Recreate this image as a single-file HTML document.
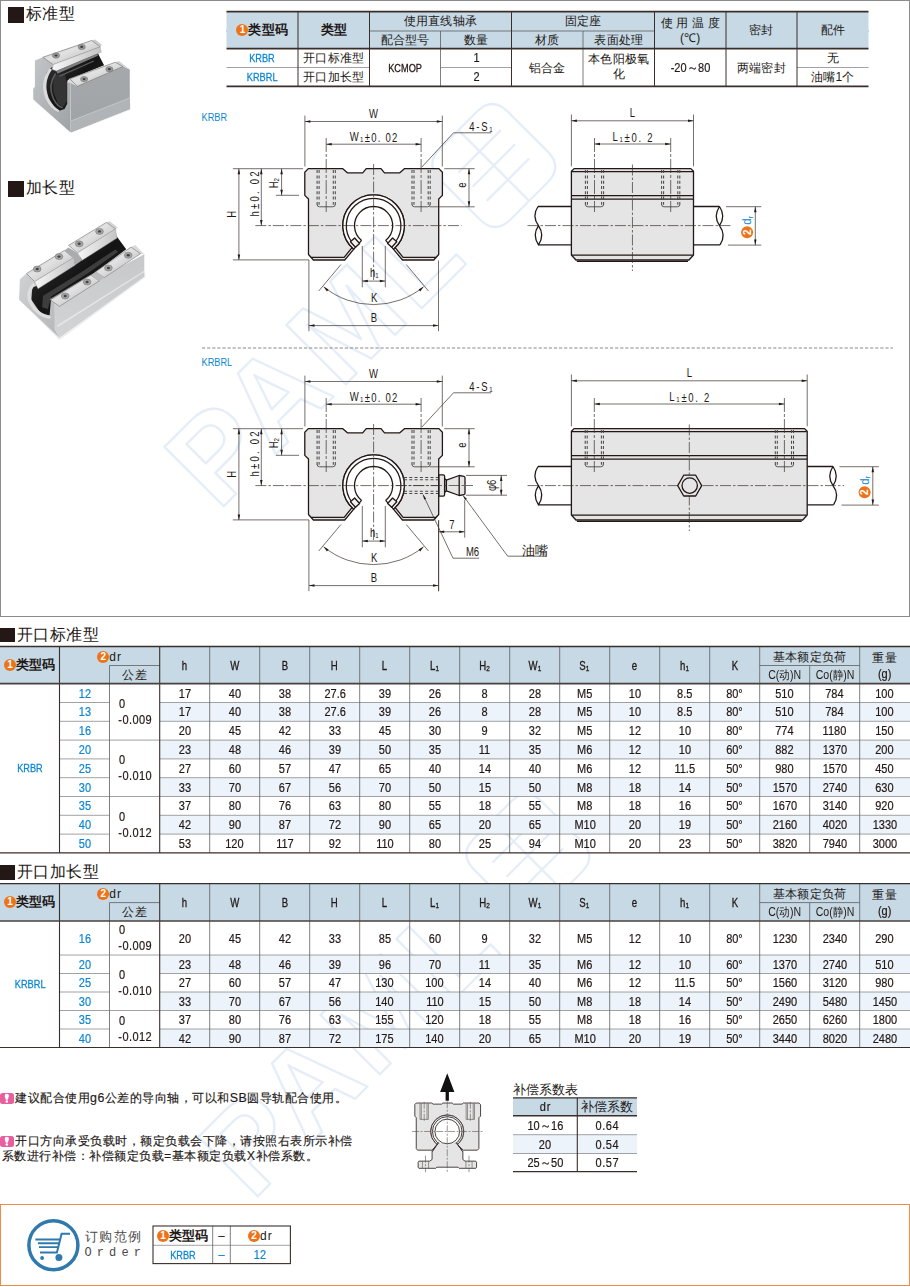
<!DOCTYPE html>
<html lang="zh">
<head>
<meta charset="utf-8">
<title>KRBR / KRBRL</title>
<style>
html,body{margin:0;padding:0;background:#fff;}
body{width:910px;height:1287px;position:relative;overflow:hidden;font-family:"Liberation Sans",sans-serif;color:#231815;font-size:12px;}
.abs{position:absolute;}
.bx{position:absolute;box-sizing:border-box;}
.ln{position:absolute;background:#231815;}
.lg{position:absolute;background:#7d7d7d;}
.t{position:absolute;text-align:center;white-space:nowrap;overflow:visible;font-size:12px;line-height:14px;height:14px;letter-spacing:.2px;}
.t span.s{display:inline-block;transform-origin:50% 50%;}
.n{font-size:12.5px;letter-spacing:0;-webkit-text-stroke:.2px #231815;}
.n span.s{transform:scaleX(.88);}
.a{font-size:11.5px;letter-spacing:0;-webkit-text-stroke:.3px #231815;}
.a span.s{transform:scaleX(.8);}
.m{font-size:12px;letter-spacing:0;}
.m span.s{transform:scaleX(.88);}
.l{text-align:left;}
.l span.s{transform-origin:0 50%;}
.b{color:#0d86d3;}
.b.n,.b.a{-webkit-text-stroke-color:#0d86d3;}
.hd{font-size:16px;line-height:18px;height:18px;letter-spacing:.5px;}
.sq{position:absolute;background:#231815;}
.c{display:inline-block;width:12px;height:12px;border-radius:50%;background:#ee7318;color:#fff;font-size:10px;line-height:12px;letter-spacing:0;font-weight:bold;text-align:center;vertical-align:1px;margin-right:0;}
.t b{font-size:12.8px;font-weight:bold;}
sub{font-size:8px;vertical-align:-1px;line-height:0;}
svg{position:absolute;left:0;top:0;overflow:visible;}
</style>
</head>
<body>

<div class="bx" style="left:0;top:0;width:910px;height:617px;border:1px solid #8c8c8c"></div>
<svg width="910" height="1287" viewBox="0 0 910 1287"><g transform="translate(218 512) rotate(-45)" fill="none" stroke="#e5eef8" stroke-width="2.3" stroke-linejoin="round"><text x="0" y="0" font-family="Liberation Sans, sans-serif" font-weight="bold" font-size="122" letter-spacing="6">PAML</text><path d="M392 -78q0 -22 22 -22h52q22 0 22 22v56q0 22 -22 22h-52q-22 0 -22 -22zM410 -70h60M410 -50h60M410 -30h60M440 -100v100"/></g><g transform="translate(252 1202) rotate(-45)" fill="none" stroke="#e5eef8" stroke-width="2.3" stroke-linejoin="round"><text x="0" y="0" font-family="Liberation Sans, sans-serif" font-weight="bold" font-size="122" letter-spacing="6">PAML</text><path d="M392 -78q0 -22 22 -22h52q22 0 22 22v56q0 22 -22 22h-52q-22 0 -22 -22zM410 -70h60M410 -50h60M410 -30h60M440 -100v100"/></g></svg>
<div class="sq" style="left:8px;top:7px;width:15.5px;height:15.5px"></div>
<div class="t l hd" style="left:25.5px;top:5px;width:200px">标准型</div>
<div class="sq" style="left:8px;top:181px;width:15.5px;height:15.5px"></div>
<div class="t l hd" style="left:25.5px;top:179px;width:200px">加长型</div>
<svg width="910" height="1287" viewBox="0 0 910 1287" fill="none"><rect x="226.5" y="11.6" width="642" height="37" fill="#c6d9e5"/><path d="M226.5 31H868.5" stroke="#5e5e5e" stroke-width="0.8"/><rect x="226.5" y="30" width="143" height="2" fill="#c6d9e5"/><rect x="654.5" y="30" width="214" height="2" fill="#c6d9e5"/><path d="M226.5 67.5H369.5" stroke="#8a8a8a" stroke-width="0.8"/><path d="M440.5 67.5H511.5" stroke="#8a8a8a" stroke-width="0.8"/><path d="M797 67.5H868.5" stroke="#8a8a8a" stroke-width="0.8"/><path d="M298 11.6V86.4" stroke="#3a2e2a" stroke-width="1"/><path d="M369.5 11.6V86.4" stroke="#3a2e2a" stroke-width="1"/><path d="M511.5 11.6V86.4" stroke="#3a2e2a" stroke-width="1"/><path d="M654.5 11.6V86.4" stroke="#3a2e2a" stroke-width="1"/><path d="M726 11.6V86.4" stroke="#3a2e2a" stroke-width="1"/><path d="M797 11.6V86.4" stroke="#3a2e2a" stroke-width="1"/><path d="M440.5 31V86.4" stroke="#5e5e5e" stroke-width="0.8"/><path d="M583 31V86.4" stroke="#5e5e5e" stroke-width="0.8"/><path d="M226.5 11.6H868.5" stroke="#3a2e2a" stroke-width="1.6"/><path d="M226.5 48.6H868.5" stroke="#3a2e2a" stroke-width="1.6"/><path d="M226.5 86.4H868.5" stroke="#3a2e2a" stroke-width="1.6"/></svg>
<div class="t " style="left:226.5px;top:23px;width:71.5px;"><span class="s"><span class="c">1</span><b>类型码</b></span></div>
<div class="t " style="left:298px;top:23px;width:71.5px;"><span class="s"><b>类型</b></span></div>
<div class="t " style="left:369.5px;top:14px;width:142px;"><span class="s">使用直线轴承</span></div>
<div class="t " style="left:369.5px;top:33px;width:71px;"><span class="s">配合型号</span></div>
<div class="t " style="left:440.5px;top:33px;width:71px;"><span class="s">数量</span></div>
<div class="t " style="left:511.5px;top:14px;width:143px;"><span class="s">固定座</span></div>
<div class="t " style="left:511.5px;top:33px;width:71.5px;"><span class="s">材质</span></div>
<div class="t " style="left:583px;top:33px;width:71.5px;"><span class="s">表面处理</span></div>
<div class="t " style="left:654.5px;top:16px;width:71.5px;"><span class="s">使 用 温 度</span></div>
<div class="t " style="left:654.5px;top:31px;width:71.5px;"><span class="s">(℃)</span></div>
<div class="t " style="left:726px;top:23px;width:71px;"><span class="s">密封</span></div>
<div class="t " style="left:797px;top:23px;width:71.5px;"><span class="s">配件</span></div>
<div class="t b a" style="left:226.5px;top:51px;width:71.5px;"><span class="s">KRBR</span></div>
<div class="t b a" style="left:226.5px;top:70px;width:71.5px;"><span class="s">KRBRL</span></div>
<div class="t " style="left:298px;top:51px;width:71.5px;"><span class="s">开口标准型</span></div>
<div class="t " style="left:298px;top:70px;width:71.5px;"><span class="s">开口加长型</span></div>
<div class="t a" style="left:369.5px;top:61px;width:71px;"><span class="s">KCMOP</span></div>
<div class="t n" style="left:440.5px;top:51px;width:71px;"><span class="s">1</span></div>
<div class="t n" style="left:440.5px;top:70px;width:71px;"><span class="s">2</span></div>
<div class="t " style="left:511.5px;top:61px;width:71.5px;"><span class="s">铝合金</span></div>
<div class="t " style="left:583px;top:52px;width:71.5px;"><span class="s">本色阳极氧</span></div>
<div class="t " style="left:583px;top:67px;width:71.5px;"><span class="s">化</span></div>
<div class="t n" style="left:654.5px;top:61px;width:71.5px;"><span class="s">-20～80</span></div>
<div class="t " style="left:726px;top:61px;width:71px;"><span class="s">两端密封</span></div>
<div class="t " style="left:797px;top:51px;width:71.5px;"><span class="s">无</span></div>
<div class="t " style="left:797px;top:70px;width:71.5px;"><span class="s">油嘴1个</span></div>
<svg width="200" height="345" viewBox="0 0 200 345" style="filter:blur(.35px)">
<defs>
<linearGradient id="gA" x1="0" y1="0" x2="1" y2="1"><stop offset="0" stop-color="#c3c6c8"/><stop offset="1" stop-color="#9fa2a5"/></linearGradient>
<linearGradient id="gB" x1="0" y1="0" x2="0" y2="1"><stop offset="0" stop-color="#a6a9ac"/><stop offset="1" stop-color="#a0a3a6"/></linearGradient>
<linearGradient id="gP" x1="0" y1="0" x2="1" y2="1"><stop offset="0" stop-color="#bcbcbc"/><stop offset=".45" stop-color="#e2e2e2"/><stop offset="1" stop-color="#adadad"/></linearGradient>
<linearGradient id="gQ" x1="0" y1="0" x2="1" y2="0"><stop offset="0" stop-color="#f6f6f6"/><stop offset="1" stop-color="#c4c4c4"/></linearGradient>
<linearGradient id="gD" x1="0" y1="0" x2="1" y2="1"><stop offset="0" stop-color="#3a3a3a"/><stop offset=".5" stop-color="#141414"/><stop offset="1" stop-color="#2c2c2c"/></linearGradient>
<linearGradient id="gC" x1="0" y1="0" x2="1" y2="1"><stop offset="0" stop-color="#cfd1d3"/><stop offset="1" stop-color="#b4b6b8"/></linearGradient>
<linearGradient id="gE" x1="0" y1="0" x2="0" y2="1"><stop offset="0" stop-color="#c6c8ca"/><stop offset="1" stop-color="#d2d4d6"/></linearGradient>
</defs>
<polygon points="33.2,99.9 70.9,132.9 130.5,109.8 130.5,103.8 77.7,122.3" fill="#e9e9e9" />
<polygon points="34.9,60.6 42.8,57.3 53.4,64.6 70.5,82.7 70.5,132.2 33.2,99.2 33.2,88.7 34.9,86.7" fill="url(#gA)" />
<polygon points="70.5,82.7 77.1,86.0 122.6,66.3 129.8,69.6 129.8,109.1 70.9,132.2" fill="url(#gB)" />
<polygon points="70.9,121.0 129.8,97.9 129.8,109.1 70.9,132.2" fill="#b1b4b7" />
<polygon points="70.9,120.5 129.8,97.4 129.8,98.4 70.9,121.5" fill="#c3c5c7" />
<polygon points="115.3,62.3 118.9,61.1 129.8,69.6 122.6,66.3" fill="#cfd1d3" />
<polygon points="51.4,67.6 97.3,51.8 99.5,56.4 104.1,65.3 69.8,79.1 67.2,82.7 67.2,103.8 64.6,109.1 58.6,111.1 52.0,107.1 46.1,95.9 44.1,82.7 46.8,72.2" fill="url(#gD)" />
<polygon points="53.4,75.5 64.6,73.5 66.9,82.7 66.9,101.2 63.2,107.1 58.0,103.8 53.4,92.0" fill="#343434" />
<polygon points="70.5,78.1 77.1,86.0 70.5,83.0 67.2,82.5 67.5,80.6" fill="#d9dadb" />
<path d="M49.4 68.5 Q38.8 82.7 45.8 99.2 Q50.7 109.1 58.0 112.0 L59.6 110.4 Q53.4 107.1 48.7 97.9 Q42.8 82.7 52.0 69.6 L49.4 68.5" fill="#d9dadb" stroke="none"/>
<path d="M55.6 73.5 Q47.4 85.4 53.4 98.6 Q57.3 106.5 62.6 107.8" fill="none" stroke="#5b5b5b" stroke-width="1.6"/>
<polygon points="91.6,40.5 95.2,39.5 101.8,44.8 100.2,47.1" fill="#c9cbcd" />
<polygon points="42.8,57.3 91.6,40.5 100.2,46.9 53.4,64.6" fill="url(#gP)" stroke="#7d7d7d" stroke-width=".7"/>
<polygon points="53.4,64.6 100.2,46.9 101.2,52.2 97.5,53.7 56.4,71.1 52.0,69.3" fill="url(#gQ)" stroke="#9a9a9a" stroke-width=".4"/>
<polygon points="56.4,71.1 97.5,53.7 97.8,55.8 57.4,73.8" fill="#7d7d7d" />
<polygon points="59.3,75.5 93.6,60.6 94.1,61.6 59.8,76.7" fill="#5a5a5a" />
<polygon points="69.8,78.8 115.3,62.3 122.9,66.5 77.4,86.3" fill="url(#gP)" stroke="#7d7d7d" stroke-width=".7"/>
<ellipse cx="56.0" cy="55.5" rx="3.6" ry="2.7" fill="#9a9a9a" stroke="#6a6a6a" stroke-width=".5"/><ellipse cx="56.0" cy="55.5" rx="1.5" ry="1.1" fill="#3c3c3c"/>
<ellipse cx="81.7" cy="46.9" rx="3.6" ry="2.7" fill="#9a9a9a" stroke="#6a6a6a" stroke-width=".5"/><ellipse cx="81.7" cy="46.9" rx="1.5" ry="1.1" fill="#3c3c3c"/>
<ellipse cx="84.1" cy="79.1" rx="3.6" ry="2.7" fill="#9a9a9a" stroke="#6a6a6a" stroke-width=".5"/><ellipse cx="84.1" cy="79.1" rx="1.5" ry="1.1" fill="#3c3c3c"/>
<ellipse cx="109.4" cy="69.2" rx="3.6" ry="2.7" fill="#9a9a9a" stroke="#6a6a6a" stroke-width=".5"/><ellipse cx="109.4" cy="69.2" rx="1.5" ry="1.1" fill="#3c3c3c"/>
<polygon points="19.1,299.8 59.4,340.2 145.2,277.6 145.2,272.6 75.9,323.7" fill="#efefef" />
<polygon points="19.9,279.2 26.5,273.5 34.7,281.2 50.4,299.8 54.8,302.3 54.8,329.5 59.4,337.7 19.1,299.8" fill="url(#gC)" />
<polygon points="54.8,302.3 144.3,254.2 144.3,276.8 59.4,337.7 54.8,329.5" fill="url(#gE)" />
<polygon points="57.0,325.4 144.3,270.7 144.3,272.0 57.8,326.9" fill="#e6e7e8" />
<polygon points="131.1,247.1 135.3,244.9 144.3,254.2 140.2,253.7" fill="#d9dadc" />
<polygon points="36.4,286.1 74.3,262.4 79.2,258.3 115.5,234.7 126.2,249.2 95.7,272.3 90.8,275.6 50.9,300.3 49.6,315.5 40.5,313.0 31.4,299.8 32.3,287.5" fill="url(#gD)" />
<polygon points="43.0,295.7 79.2,273.5 108.9,253.7 115.5,249.6 118.0,252.0 87.5,273.5 51.2,296.5 47.9,308.9 42.1,307.2" fill="#3d3d3d" />
<polygon points="49.6,299.0 89.1,275.6 89.8,276.6 50.2,300.3" fill="#6a6a6a" />
<path d="M33.1 285.0Q24.0 295.7 34.7 308.9Q41.3 316.3 49.2 317.1" fill="none" stroke="#dedede" stroke-width="3.2" stroke-linecap="round"/>
<polygon points="106.4,222.4 109.7,221.2 118.0,227.8 115.5,229.0" fill="#d0d2d4" />
<polygon points="26.5,273.5 64.4,250.4 73.5,257.8 34.7,281.7" fill="url(#gP)" stroke="#858585" stroke-width=".7"/>
<polygon points="34.7,281.7 73.5,257.8 75.3,265.1 38.0,288.8" fill="url(#gQ)" stroke="#9a9a9a" stroke-width=".4"/>
<polygon points="68.5,245.4 106.4,222.4 115.5,229.0 77.6,252.9" fill="url(#gP)" stroke="#858585" stroke-width=".7"/>
<polygon points="77.6,252.9 115.5,229.0 117.1,238.0 82.2,260.3" fill="url(#gQ)" stroke="#9a9a9a" stroke-width=".4"/>
<polygon points="64.4,250.4 68.5,247.6 77.6,253.2 82.2,260.3 75.3,265.1 73.5,257.8" fill="#a9abad" />
<polygon points="50.4,299.8 90.8,275.1 99.3,280.9 59.4,306.4" fill="url(#gP)" stroke="#858585" stroke-width=".7"/>
<polygon points="95.7,271.8 131.1,247.1 140.5,253.7 104.3,277.6" fill="url(#gP)" stroke="#858585" stroke-width=".7"/>
<polygon points="90.8,275.1 95.7,271.8 104.3,277.6 99.3,280.9" fill="#b9bbbd" />
<ellipse cx="37.2" cy="269.0" rx="3.9" ry="3" fill="#a5a5a5" stroke="#6f6f6f" stroke-width=".5"/><ellipse cx="37.2" cy="269.0" rx="1.6" ry="1.2" fill="#444"/>
<ellipse cx="59.0" cy="256.6" rx="3.9" ry="3" fill="#a5a5a5" stroke="#6f6f6f" stroke-width=".5"/><ellipse cx="59.0" cy="256.6" rx="1.6" ry="1.2" fill="#444"/>
<ellipse cx="79.2" cy="243.8" rx="3.9" ry="3" fill="#a5a5a5" stroke="#6f6f6f" stroke-width=".5"/><ellipse cx="79.2" cy="243.8" rx="1.6" ry="1.2" fill="#444"/>
<ellipse cx="99.5" cy="231.4" rx="3.9" ry="3" fill="#a5a5a5" stroke="#6f6f6f" stroke-width=".5"/><ellipse cx="99.5" cy="231.4" rx="1.6" ry="1.2" fill="#444"/>
<ellipse cx="65.2" cy="296.0" rx="3.9" ry="3" fill="#a5a5a5" stroke="#6f6f6f" stroke-width=".5"/><ellipse cx="65.2" cy="296.0" rx="1.6" ry="1.2" fill="#444"/>
<ellipse cx="87.1" cy="282.0" rx="3.9" ry="3" fill="#a5a5a5" stroke="#6f6f6f" stroke-width=".5"/><ellipse cx="87.1" cy="282.0" rx="1.6" ry="1.2" fill="#444"/>
<ellipse cx="108.4" cy="268.0" rx="3.9" ry="3" fill="#a5a5a5" stroke="#6f6f6f" stroke-width=".5"/><ellipse cx="108.4" cy="268.0" rx="1.6" ry="1.2" fill="#444"/>
<ellipse cx="128.2" cy="255.3" rx="3.9" ry="3" fill="#a5a5a5" stroke="#6f6f6f" stroke-width=".5"/><ellipse cx="128.2" cy="255.3" rx="1.6" ry="1.2" fill="#444"/>
</svg>
<svg width="910" height="620" viewBox="0 0 910 620" fill="none" font-family="Liberation Sans, sans-serif">
<style>.tk{stroke:#231815;stroke-width:1.3;stroke-linejoin:round}.th{stroke:#3b302c;stroke-width:.7;fill:none}.cl{stroke:#3b302c;stroke-width:.7;stroke-dasharray:11 2 2.5 2;fill:none}.cl2{stroke:#3b302c;stroke-width:.7;stroke-dasharray:14 2 3 2;fill:none}.hid{stroke:#4a4a4a;stroke-width:1.05;stroke-dasharray:3 2.3;fill:none}.hid2{stroke:#4a4a4a;stroke-width:.9;fill:none}</style>
<!--WM-->
<path d="M202 348H893" stroke="#6b6b6b" stroke-width=".8" stroke-dasharray="3.2 1.9"/>
<text transform="translate(201.50 121.00) rotate(0) scale(0.8 1)" text-anchor="start" font-size="11.5" fill="#0d86d3" stroke="none" font-weight="normal" stroke="#0d86d3" stroke-width=".3">KRBR</text>
<text transform="translate(201.50 365.50) rotate(0) scale(0.8 1)" text-anchor="start" font-size="11.5" fill="#0d86d3" stroke="none" font-weight="normal" stroke="#0d86d3" stroke-width=".3">KRBRL</text>
<g transform="translate(0 0)"><path d="M304.80 172.20L308.30 168.60L342.50 168.60L347.40 172.80L362.70 172.80L366.20 168.60L381.00 168.60L384.50 172.80L399.80 172.80L404.70 168.60L438.90 168.60L442.40 172.20L442.40 195.4L438.70 199L438.70 254.5L433.80 260.00L402.47 260.00L393.40 249.19A30.8 30.8 0 1 0 353.80 249.19L344.73 260.00L313.4 260.00L308.50 254.5L308.50 199L304.80 195.4Z" fill="#e5e5e5" class="tk"/><path d="M311.2 257.4H344.13L352.01 247.57M436.00 257.4H403.07L395.19 247.57" class="tk" stroke-width=".9" fill="none"/><path d="M393.40 249.19A30.8 30.8 0 1 0 353.80 249.19L361.58 240.44A19.1 19.1 0 1 1 385.62 240.44Z" fill="#fff" stroke="none"/><path d="M393.40 249.19A30.8 30.8 0 1 0 353.80 249.19" class="tk" stroke-width="1.05" fill="none"/><path d="M395.11 242.41A27.3 27.3 0 1 0 352.09 242.41" class="tk" stroke-width="1.05" fill="none"/><path d="M385.62 240.44A19.1 19.1 0 1 0 361.58 240.44" class="tk" stroke-width="1.6" fill="none"/><path d="M385.62 240.44L393.40 249.19M361.58 240.44L353.80 249.19" class="tk" stroke-width="1"/><rect x="-3.7" y="-2.85" width="7.4" height="5.7" fill="#f2f2f2" class="tk" stroke-width="1" transform="translate(392.18 242.62) rotate(-47.5)"/><rect x="-3.7" y="-2.85" width="7.4" height="5.7" fill="#f2f2f2" class="tk" stroke-width="1" transform="translate(355.02 242.62) rotate(47.5)"/><path d="M317.10 170.10V204.80" class="hid"/><path d="M319.10 170.10V204.80" class="hid"/><path d="M333.30 170.10V204.80" class="hid"/><path d="M335.30 170.10V204.80" class="hid"/><path d="M317.10 204.30Q317.10 206.80 319.60 206.80H332.80Q335.30 206.80 335.30 204.30" class="hid2"/><path d="M412.00 170.10V204.80" class="hid"/><path d="M414.00 170.10V204.80" class="hid"/><path d="M428.20 170.10V204.80" class="hid"/><path d="M430.20 170.10V204.80" class="hid"/><path d="M412.00 204.30Q412.00 206.80 414.50 206.80H427.70Q430.20 206.80 430.20 204.30" class="hid2"/><path d="M255.4 225.60H461.5" class="cl"/><path d="M373.60 164V281" class="cl"/><path d="M326.2 138V212M421.1 138V212" class="cl2"/><path d="M304.9 115.6V166.5M442.3 115.6V166.5" class="th"/><path d="M304.90 121.50H442.30" class="th"/><path d="M304.90 121.50L310.40 120.25L310.40 122.75Z" fill="#231815" stroke="none"/><path d="M442.30 121.50L436.80 122.75L436.80 120.25Z" fill="#231815" stroke="none"/><path d="M326.20 144.20H421.10" class="th"/><path d="M326.20 144.20L331.70 142.95L331.70 145.45Z" fill="#231815" stroke="none"/><path d="M421.10 144.20L415.60 145.45L415.60 142.95Z" fill="#231815" stroke="none"/><text transform="translate(373.60 118.40) rotate(0) scale(0.76 1)" text-anchor="middle" font-size="12.5" fill="#231815" stroke="none" font-weight="normal" stroke="#231815" stroke-width=".3">W</text><text transform="translate(373.60 141.00) rotate(0) scale(0.76 1)" text-anchor="middle" font-size="12.5" fill="#231815" stroke="none" font-weight="normal" stroke="#231815" stroke-width=".3" textLength="62.5" lengthAdjust="spacing">W<tspan font-size="8" dy="1">1</tspan><tspan dy="-1"></tspan>±0. 02</text><path d="M232.9 168.7H303M232.9 259.9H308.9V331.2M275.9 195.3H299" class="th"/><path d="M238.90 168.70V259.90" class="th"/><path d="M238.90 168.70L240.15 174.20L237.65 174.20Z" fill="#231815" stroke="none"/><path d="M238.90 259.90L237.65 254.40L240.15 254.40Z" fill="#231815" stroke="none"/><path d="M261.30 168.70V225.60" class="th"/><path d="M261.30 168.70L262.55 174.20L260.05 174.20Z" fill="#231815" stroke="none"/><path d="M261.30 225.60L260.05 220.10L262.55 220.10Z" fill="#231815" stroke="none"/><path d="M281.60 168.70V195.30" class="th"/><path d="M281.60 168.70L282.85 174.20L280.35 174.20Z" fill="#231815" stroke="none"/><path d="M281.60 195.30L280.35 189.80L282.85 189.80Z" fill="#231815" stroke="none"/><text transform="translate(236.00 214.30) rotate(-90) scale(0.76 1)" text-anchor="middle" font-size="12.5" fill="#231815" stroke="none" font-weight="normal" stroke="#231815" stroke-width=".3">H</text><text transform="translate(258.80 194.00) rotate(-90) scale(0.76 1)" text-anchor="middle" font-size="12.5" fill="#231815" stroke="none" font-weight="normal" stroke="#231815" stroke-width=".3" textLength="59.2" lengthAdjust="spacing">h±0. 02</text><text transform="translate(278.00 183.20) rotate(-90) scale(0.76 1)" text-anchor="middle" font-size="12.5" fill="#231815" stroke="none" font-weight="normal" stroke="#231815" stroke-width=".3">H<tspan font-size="8" dy="1">2</tspan><tspan dy="-1"></tspan></text><path d="M444.3 168.7H474.7M429.7 206.8H474.7" class="th"/><path d="M469.00 168.70V206.80" class="th"/><path d="M469.00 168.70L470.25 174.20L467.75 174.20Z" fill="#231815" stroke="none"/><path d="M469.00 206.80L467.75 201.30L470.25 201.30Z" fill="#231815" stroke="none"/><text transform="translate(466.40 185.00) rotate(-90) scale(0.76 1)" text-anchor="middle" font-size="12.5" fill="#231815" stroke="none" font-weight="normal" stroke="#231815" stroke-width=".3">e</text><path d="M421.8 167.1L453.5 132.8H491.2" class="th"/><text transform="translate(481.00 131.20) rotate(0) scale(0.76 1)" text-anchor="middle" font-size="12.5" fill="#231815" stroke="none" font-weight="normal" stroke="#231815" stroke-width=".3" textLength="30.9" lengthAdjust="spacing">4-S<tspan font-size="8" dy="1">1</tspan><tspan dy="-1"></tspan></text><path d="M362.3 246V287.3M385.3 246V287.3" class="th"/><path d="M362.30 281.10H385.30" class="th"/><path d="M362.30 281.10L367.80 279.85L367.80 282.35Z" fill="#231815" stroke="none"/><path d="M385.30 281.10L379.80 282.35L379.80 279.85Z" fill="#231815" stroke="none"/><text transform="translate(374.30 277.40) rotate(0) scale(0.76 1)" text-anchor="middle" font-size="12.5" fill="#231815" stroke="none" font-weight="normal" stroke="#231815" stroke-width=".3">h<tspan font-size="8" dy="1">1</tspan><tspan dy="-1"></tspan></text><path d="M340.95 264.52L318.71 291.02M406.25 264.52L428.49 291.02" class="th"/><path d="M323.67 286.82A79 79 0 0 0 423.53 286.82" class="th"/><path d="M323.67 286.82L328.59 289.57L326.92 291.43Z" fill="#231815" stroke="none"/><path d="M423.53 286.82L420.28 291.43L418.61 289.57Z" fill="#231815" stroke="none"/><text transform="translate(374.10 301.60) rotate(0) scale(0.76 1)" text-anchor="middle" font-size="12.5" fill="#231815" stroke="none" font-weight="normal" stroke="#231815" stroke-width=".3">K</text><path d="M438.5 260.5V331.2" class="th"/><path d="M309.00 325.60H438.50" class="th"/><path d="M309.00 325.60L314.50 324.35L314.50 326.85Z" fill="#231815" stroke="none"/><path d="M438.50 325.60L433.00 326.85L433.00 324.35Z" fill="#231815" stroke="none"/><text transform="translate(374.00 321.70) rotate(0) scale(0.76 1)" text-anchor="middle" font-size="12.5" fill="#231815" stroke="none" font-weight="normal" stroke="#231815" stroke-width=".3">B</text></g>
<g transform="translate(0 0)"><path d="M538.00 206.50H719.50M538.50 244.90H720.00" class="tk" stroke-width="1.2"/><path d="M538.00 206.50Q531.50 216.10 538.50 225.70Q545.00 235.30 538.50 244.90Q532.00 235.30 538.50 225.70" class="tk" stroke-width="1.1" fill="none"/><path d="M719.50 206.50Q713.00 216.10 719.50 225.70Q726.00 216.10 719.50 206.50M719.50 225.70Q726.50 235.30 720.00 244.90" class="tk" stroke-width="1.1" fill="none"/><path d="M571.40 171.3L574.10 168.60H690.80L693.50 171.3V255L689.00 260.00H575.90L571.40 255Z" fill="#e5e5e5" class="tk"/><path d="M571.90 171.7H693.00M571.40 195.6H693.50M571.40 199.2H693.50M571.90 255.2H693.00M576.90 261.30H688.00" class="tk" stroke-width="1"/><path d="M585.40 170.10V204.80" class="hid"/><path d="M587.40 170.10V204.80" class="hid"/><path d="M601.60 170.10V204.80" class="hid"/><path d="M603.60 170.10V204.80" class="hid"/><path d="M585.40 204.30Q585.40 206.80 587.90 206.80H601.10Q603.60 206.80 603.60 204.30" class="hid2"/><path d="M661.60 170.10V204.80" class="hid"/><path d="M663.60 170.10V204.80" class="hid"/><path d="M677.80 170.10V204.80" class="hid"/><path d="M679.80 170.10V204.80" class="hid"/><path d="M661.60 204.30Q661.60 206.80 664.10 206.80H677.30Q679.80 206.80 679.80 204.30" class="hid2"/><path d="M594.50 138V212M670.70 138V212" class="cl2"/><path d="M527.50 225.60H730.50" class="cl"/><path d="M632.45 164.5V271" class="cl"/><path d="M571.40 114.5V166.3M693.50 114.5V166.3" class="th"/><path d="M571.40 120.80H693.50" class="th"/><path d="M571.40 120.80L576.90 119.55L576.90 122.05Z" fill="#231815" stroke="none"/><path d="M693.50 120.80L688.00 122.05L688.00 119.55Z" fill="#231815" stroke="none"/><path d="M594.50 144.00H670.70" class="th"/><path d="M594.50 144.00L600.00 142.75L600.00 145.25Z" fill="#231815" stroke="none"/><path d="M670.70 144.00L665.20 145.25L665.20 142.75Z" fill="#231815" stroke="none"/><text transform="translate(632.45 117.00) rotate(0) scale(0.76 1)" text-anchor="middle" font-size="12.5" fill="#231815" stroke="none" font-weight="normal" stroke="#231815" stroke-width=".3">L</text><text transform="translate(632.45 141.00) rotate(0) scale(0.76 1)" text-anchor="middle" font-size="12.5" fill="#231815" stroke="none" font-weight="normal" stroke="#231815" stroke-width=".3" textLength="52.6" lengthAdjust="spacing">L<tspan font-size="8" dy="1">1</tspan><tspan dy="-1"></tspan>±0. 2</text><path d="M726.00 206.70H761.30M728.00 245.10H761.30" class="th"/><path d="M755.30 206.70V245.10" class="th"/><path d="M755.30 206.70L756.55 212.20L754.05 212.20Z" fill="#231815" stroke="none"/><path d="M755.30 245.10L754.05 239.60L756.55 239.60Z" fill="#231815" stroke="none"/><circle cx="747.10" cy="232.2" r="6" fill="#ee7318" stroke="none"/><text transform="translate(750.70 232.20) rotate(-90) scale(1 1)" text-anchor="middle" font-size="10" fill="#fff" stroke="none" font-weight="bold" >2</text><text transform="translate(751.30 220.30) rotate(-90) scale(0.95 1)" text-anchor="middle" font-size="12" fill="#0d86d3" stroke="none" font-weight="normal" stroke="#0d86d3" stroke-width=".3">d<tspan font-size="8" dy="1.5">r</tspan></text></g>
<g transform="translate(0 260)"><path d="M304.80 172.20L308.30 168.60L342.50 168.60L347.40 172.80L362.70 172.80L366.20 168.60L381.00 168.60L384.50 172.80L399.80 172.80L404.70 168.60L438.90 168.60L442.40 172.20L442.40 195.4L438.70 199L438.70 254.5L433.80 260.00L402.47 260.00L393.40 249.19A30.8 30.8 0 1 0 353.80 249.19L344.73 260.00L313.4 260.00L308.50 254.5L308.50 199L304.80 195.4Z" fill="#e5e5e5" class="tk"/><path d="M311.2 257.4H344.13L352.01 247.57M436.00 257.4H403.07L395.19 247.57" class="tk" stroke-width=".9" fill="none"/><path d="M393.40 249.19A30.8 30.8 0 1 0 353.80 249.19L361.58 240.44A19.1 19.1 0 1 1 385.62 240.44Z" fill="#fff" stroke="none"/><path d="M393.40 249.19A30.8 30.8 0 1 0 353.80 249.19" class="tk" stroke-width="1.05" fill="none"/><path d="M395.11 242.41A27.3 27.3 0 1 0 352.09 242.41" class="tk" stroke-width="1.05" fill="none"/><path d="M385.62 240.44A19.1 19.1 0 1 0 361.58 240.44" class="tk" stroke-width="1.6" fill="none"/><path d="M385.62 240.44L393.40 249.19M361.58 240.44L353.80 249.19" class="tk" stroke-width="1"/><rect x="-3.7" y="-2.85" width="7.4" height="5.7" fill="#f2f2f2" class="tk" stroke-width="1" transform="translate(392.18 242.62) rotate(-47.5)"/><rect x="-3.7" y="-2.85" width="7.4" height="5.7" fill="#f2f2f2" class="tk" stroke-width="1" transform="translate(355.02 242.62) rotate(47.5)"/><path d="M317.10 170.10V204.80" class="hid"/><path d="M319.10 170.10V204.80" class="hid"/><path d="M333.30 170.10V204.80" class="hid"/><path d="M335.30 170.10V204.80" class="hid"/><path d="M317.10 204.30Q317.10 206.80 319.60 206.80H332.80Q335.30 206.80 335.30 204.30" class="hid2"/><path d="M412.00 170.10V204.80" class="hid"/><path d="M414.00 170.10V204.80" class="hid"/><path d="M428.20 170.10V204.80" class="hid"/><path d="M430.20 170.10V204.80" class="hid"/><path d="M412.00 204.30Q412.00 206.80 414.50 206.80H427.70Q430.20 206.80 430.20 204.30" class="hid2"/><path d="M255.4 225.60H461.5" class="cl"/><path d="M373.60 164V281" class="cl"/><path d="M326.2 138V212M421.1 138V212" class="cl2"/><path d="M304.9 115.6V166.5M442.3 115.6V166.5" class="th"/><path d="M304.90 121.50H442.30" class="th"/><path d="M304.90 121.50L310.40 120.25L310.40 122.75Z" fill="#231815" stroke="none"/><path d="M442.30 121.50L436.80 122.75L436.80 120.25Z" fill="#231815" stroke="none"/><path d="M326.20 144.20H421.10" class="th"/><path d="M326.20 144.20L331.70 142.95L331.70 145.45Z" fill="#231815" stroke="none"/><path d="M421.10 144.20L415.60 145.45L415.60 142.95Z" fill="#231815" stroke="none"/><text transform="translate(373.60 118.40) rotate(0) scale(0.76 1)" text-anchor="middle" font-size="12.5" fill="#231815" stroke="none" font-weight="normal" stroke="#231815" stroke-width=".3">W</text><text transform="translate(373.60 141.00) rotate(0) scale(0.76 1)" text-anchor="middle" font-size="12.5" fill="#231815" stroke="none" font-weight="normal" stroke="#231815" stroke-width=".3" textLength="62.5" lengthAdjust="spacing">W<tspan font-size="8" dy="1">1</tspan><tspan dy="-1"></tspan>±0. 02</text><path d="M232.9 168.7H303M232.9 259.9H308.9V331.2M275.9 195.3H299" class="th"/><path d="M238.90 168.70V259.90" class="th"/><path d="M238.90 168.70L240.15 174.20L237.65 174.20Z" fill="#231815" stroke="none"/><path d="M238.90 259.90L237.65 254.40L240.15 254.40Z" fill="#231815" stroke="none"/><path d="M261.30 168.70V225.60" class="th"/><path d="M261.30 168.70L262.55 174.20L260.05 174.20Z" fill="#231815" stroke="none"/><path d="M261.30 225.60L260.05 220.10L262.55 220.10Z" fill="#231815" stroke="none"/><path d="M281.60 168.70V195.30" class="th"/><path d="M281.60 168.70L282.85 174.20L280.35 174.20Z" fill="#231815" stroke="none"/><path d="M281.60 195.30L280.35 189.80L282.85 189.80Z" fill="#231815" stroke="none"/><text transform="translate(236.00 214.30) rotate(-90) scale(0.76 1)" text-anchor="middle" font-size="12.5" fill="#231815" stroke="none" font-weight="normal" stroke="#231815" stroke-width=".3">H</text><text transform="translate(258.80 194.00) rotate(-90) scale(0.76 1)" text-anchor="middle" font-size="12.5" fill="#231815" stroke="none" font-weight="normal" stroke="#231815" stroke-width=".3" textLength="59.2" lengthAdjust="spacing">h±0. 02</text><text transform="translate(278.00 183.20) rotate(-90) scale(0.76 1)" text-anchor="middle" font-size="12.5" fill="#231815" stroke="none" font-weight="normal" stroke="#231815" stroke-width=".3">H<tspan font-size="8" dy="1">2</tspan><tspan dy="-1"></tspan></text><path d="M444.3 168.7H474.7M429.7 206.8H474.7" class="th"/><path d="M469.00 168.70V206.80" class="th"/><path d="M469.00 168.70L470.25 174.20L467.75 174.20Z" fill="#231815" stroke="none"/><path d="M469.00 206.80L467.75 201.30L470.25 201.30Z" fill="#231815" stroke="none"/><text transform="translate(466.40 185.00) rotate(-90) scale(0.76 1)" text-anchor="middle" font-size="12.5" fill="#231815" stroke="none" font-weight="normal" stroke="#231815" stroke-width=".3">e</text><path d="M421.8 167.1L453.5 132.8H491.2" class="th"/><text transform="translate(481.00 131.20) rotate(0) scale(0.76 1)" text-anchor="middle" font-size="12.5" fill="#231815" stroke="none" font-weight="normal" stroke="#231815" stroke-width=".3" textLength="30.9" lengthAdjust="spacing">4-S<tspan font-size="8" dy="1">1</tspan><tspan dy="-1"></tspan></text><path d="M362.3 246V287.3M385.3 246V287.3" class="th"/><path d="M362.30 281.10H385.30" class="th"/><path d="M362.30 281.10L367.80 279.85L367.80 282.35Z" fill="#231815" stroke="none"/><path d="M385.30 281.10L379.80 282.35L379.80 279.85Z" fill="#231815" stroke="none"/><text transform="translate(374.30 277.40) rotate(0) scale(0.76 1)" text-anchor="middle" font-size="12.5" fill="#231815" stroke="none" font-weight="normal" stroke="#231815" stroke-width=".3">h<tspan font-size="8" dy="1">1</tspan><tspan dy="-1"></tspan></text><path d="M340.95 264.52L318.71 291.02M406.25 264.52L428.49 291.02" class="th"/><path d="M323.67 286.82A79 79 0 0 0 423.53 286.82" class="th"/><path d="M323.67 286.82L328.59 289.57L326.92 291.43Z" fill="#231815" stroke="none"/><path d="M423.53 286.82L420.28 291.43L418.61 289.57Z" fill="#231815" stroke="none"/><text transform="translate(374.10 301.60) rotate(0) scale(0.76 1)" text-anchor="middle" font-size="12.5" fill="#231815" stroke="none" font-weight="normal" stroke="#231815" stroke-width=".3">K</text><path d="M438.5 260.5V331.2" class="th"/><path d="M309.00 325.60H438.50" class="th"/><path d="M309.00 325.60L314.50 324.35L314.50 326.85Z" fill="#231815" stroke="none"/><path d="M438.50 325.60L433.00 326.85L433.00 324.35Z" fill="#231815" stroke="none"/><text transform="translate(374.00 321.70) rotate(0) scale(0.76 1)" text-anchor="middle" font-size="12.5" fill="#231815" stroke="none" font-weight="normal" stroke="#231815" stroke-width=".3">B</text></g>
<path d="M404 477.4H438.5M404 479.7H438.5M404 491.2H438.5M404 493.5H438.5" class="hid" stroke-dasharray="2.2 1.4"/><path d="M404 477.4V493.5" class="hid" stroke-dasharray="2.2 1.4"/><path d="M439 474.8H443.3Q444.6 474.8 444.6 476.2V494.8Q444.6 496.2 443.3 496.2H439Z" fill="#e5e5e5" class="tk" stroke-width="1.1"/><path d="M444.8 478.8L446.4 480.2V490.8L444.8 492.2" fill="none" class="tk" stroke-width="1"/><path d="M446.4 480.2L459.2 475.5L464 476.4Q465 476.6 465 477.8V493.2Q465 494.4 464 494.6L459.2 495.5L446.4 490.8Z" fill="#e5e5e5" class="tk" stroke-width="1.1"/><path d="M459.2 475.5V495.5" class="tk" stroke-width="1"/><path d="M396 485.50H473" class="cl"/><path d="M466 475.4H507M466 495.2H507" class="th"/><path d="M501.20 475.40V495.20" class="th"/><path d="M501.20 475.40L502.45 480.90L499.95 480.90Z" fill="#231815" stroke="none"/><path d="M501.20 495.20L499.95 489.70L502.45 489.70Z" fill="#231815" stroke="none"/><text transform="translate(496.30 485.40) rotate(-90) scale(0.76 1)" text-anchor="middle" font-size="12.5" fill="#231815" stroke="none" font-weight="normal" stroke="#231815" stroke-width=".3">φ6</text><path d="M438.7 520V591.2M464.7 500V537.7" class="th"/><path d="M438.70 531.80H464.70" class="th"/><path d="M438.70 531.80L444.20 530.55L444.20 533.05Z" fill="#231815" stroke="none"/><path d="M464.70 531.80L459.20 533.05L459.20 530.55Z" fill="#231815" stroke="none"/><text transform="translate(451.80 528.50) rotate(0) scale(0.76 1)" text-anchor="middle" font-size="12.5" fill="#231815" stroke="none" font-weight="normal" stroke="#231815" stroke-width=".3">7</text><path d="M423 494.6L453 558.2H479.2" class="th"/><path d="M423.00 494.60L426.13 498.65L424.14 499.59Z" fill="#231815" stroke="none"/><text transform="translate(472.50 556.00) rotate(0) scale(0.76 1)" text-anchor="middle" font-size="12.5" fill="#231815" stroke="none" font-weight="normal" stroke="#231815" stroke-width=".3">M6</text><path d="M463 495.4L507.7 556.2H547" class="th"/><path d="M463.00 495.40L466.85 498.78L465.07 500.08Z" fill="#231815" stroke="none"/><text transform="translate(534.50 555.00) rotate(0) scale(1 1)" text-anchor="middle" font-size="12.5" fill="#231815" stroke="none" font-weight="normal" >油嘴</text>
<g transform="translate(0 260)"><path d="M538.00 206.50H833.00M538.50 244.90H833.50" class="tk" stroke-width="1.2"/><path d="M538.00 206.50Q531.50 216.10 538.50 225.70Q545.00 235.30 538.50 244.90Q532.00 235.30 538.50 225.70" class="tk" stroke-width="1.1" fill="none"/><path d="M833.00 206.50Q826.50 216.10 833.00 225.70Q839.50 216.10 833.00 206.50M833.00 225.70Q840.00 235.30 833.50 244.90" class="tk" stroke-width="1.1" fill="none"/><path d="M571.40 171.3L574.10 168.60H804.50L807.20 171.3V255L802.70 260.00H575.90L571.40 255Z" fill="#e5e5e5" class="tk"/><path d="M571.90 171.7H806.70M571.40 195.6H807.20M571.40 199.2H807.20M571.90 255.2H806.70M576.90 261.30H801.70" class="tk" stroke-width="1"/><path d="M585.20 170.10V204.80" class="hid"/><path d="M587.20 170.10V204.80" class="hid"/><path d="M601.40 170.10V204.80" class="hid"/><path d="M603.40 170.10V204.80" class="hid"/><path d="M585.20 204.30Q585.20 206.80 587.70 206.80H600.90Q603.40 206.80 603.40 204.30" class="hid2"/><path d="M775.30 170.10V204.80" class="hid"/><path d="M777.30 170.10V204.80" class="hid"/><path d="M791.50 170.10V204.80" class="hid"/><path d="M793.50 170.10V204.80" class="hid"/><path d="M775.30 204.30Q775.30 206.80 777.80 206.80H791.00Q793.50 206.80 793.50 204.30" class="hid2"/><path d="M594.30 138V212M784.40 138V212" class="cl2"/><path d="M527.50 225.60H844.00" class="cl"/><path d="M689.30 164.5V271" class="cl"/><polygon points="701.70,225.60 695.70,235.99 683.70,235.99 677.70,225.60 683.70,215.21 695.70,215.21" fill="#e5e5e5" class="tk" stroke-width="1.6"/><circle cx="689.70" cy="225.60" r="7.7" fill="#e5e5e5" class="tk" stroke-width="1"/><path d="M571.40 114.5V166.3M807.20 114.5V166.3" class="th"/><path d="M571.40 120.80H807.20" class="th"/><path d="M571.40 120.80L576.90 119.55L576.90 122.05Z" fill="#231815" stroke="none"/><path d="M807.20 120.80L801.70 122.05L801.70 119.55Z" fill="#231815" stroke="none"/><path d="M594.30 144.00H784.40" class="th"/><path d="M594.30 144.00L599.80 142.75L599.80 145.25Z" fill="#231815" stroke="none"/><path d="M784.40 144.00L778.90 145.25L778.90 142.75Z" fill="#231815" stroke="none"/><text transform="translate(689.30 117.00) rotate(0) scale(0.76 1)" text-anchor="middle" font-size="12.5" fill="#231815" stroke="none" font-weight="normal" stroke="#231815" stroke-width=".3">L</text><text transform="translate(689.30 141.00) rotate(0) scale(0.76 1)" text-anchor="middle" font-size="12.5" fill="#231815" stroke="none" font-weight="normal" stroke="#231815" stroke-width=".3" textLength="52.6" lengthAdjust="spacing">L<tspan font-size="8" dy="1">1</tspan><tspan dy="-1"></tspan>±0. 2</text><path d="M839.50 206.70H878.80M841.50 245.10H878.80" class="th"/><path d="M872.80 206.70V245.10" class="th"/><path d="M872.80 206.70L874.05 212.20L871.55 212.20Z" fill="#231815" stroke="none"/><path d="M872.80 245.10L871.55 239.60L874.05 239.60Z" fill="#231815" stroke="none"/><circle cx="864.60" cy="232.2" r="6" fill="#ee7318" stroke="none"/><text transform="translate(868.20 232.20) rotate(-90) scale(1 1)" text-anchor="middle" font-size="10" fill="#fff" stroke="none" font-weight="bold" >2</text><text transform="translate(868.80 220.30) rotate(-90) scale(0.95 1)" text-anchor="middle" font-size="12" fill="#0d86d3" stroke="none" font-weight="normal" stroke="#0d86d3" stroke-width=".3">d<tspan font-size="8" dy="1.5">r</tspan></text></g>
</svg>
<div class="sq" style="left:0px;top:627.8px;width:14.5px;height:14.5px"></div>
<div class="t l hd" style="left:16.5px;top:625.8px;width:200px">开口标准型</div>
<svg width="910" height="1287" viewBox="0 0 910 1287" fill="none"><rect x="0" y="646.5" width="910" height="37.2" fill="#c6d9e5"/><rect x="159.7" y="702.5" width="750.3" height="18.8" fill="#ecf3fa"/><rect x="159.7" y="740.1" width="750.3" height="18.8" fill="#ecf3fa"/><rect x="159.7" y="777.7" width="750.3" height="18.8" fill="#ecf3fa"/><rect x="159.7" y="815.3" width="750.3" height="18.8" fill="#ecf3fa"/><path d="M59.5 702.5H109.5" stroke="#8a8a8a" stroke-width="0.8"/><path d="M159.7 702.5H910" stroke="#8a8a8a" stroke-width="0.8"/><path d="M59.5 721.3H109.5" stroke="#8a8a8a" stroke-width="0.8"/><path d="M159.7 721.3H910" stroke="#8a8a8a" stroke-width="0.8"/><path d="M59.5 740.1H109.5" stroke="#8a8a8a" stroke-width="0.8"/><path d="M159.7 740.1H910" stroke="#8a8a8a" stroke-width="0.8"/><path d="M59.5 758.9H109.5" stroke="#8a8a8a" stroke-width="0.8"/><path d="M159.7 758.9H910" stroke="#8a8a8a" stroke-width="0.8"/><path d="M59.5 777.7H109.5" stroke="#8a8a8a" stroke-width="0.8"/><path d="M159.7 777.7H910" stroke="#8a8a8a" stroke-width="0.8"/><path d="M59.5 796.5H109.5" stroke="#8a8a8a" stroke-width="0.8"/><path d="M159.7 796.5H910" stroke="#8a8a8a" stroke-width="0.8"/><path d="M59.5 815.3H109.5" stroke="#8a8a8a" stroke-width="0.8"/><path d="M159.7 815.3H910" stroke="#8a8a8a" stroke-width="0.8"/><path d="M59.5 834.1H109.5" stroke="#8a8a8a" stroke-width="0.8"/><path d="M159.7 834.1H910" stroke="#8a8a8a" stroke-width="0.8"/><path d="M109.5 740.1H159.7" stroke="#8a8a8a" stroke-width="0.8"/><path d="M109.5 796.5H159.7" stroke="#8a8a8a" stroke-width="0.8"/><path d="M109.5 665.5H159.7" stroke="#5e5e5e" stroke-width="0.8"/><path d="M759.7 665.5H859.7" stroke="#5e5e5e" stroke-width="0.8"/><path d="M59.5 646.5V852.9" stroke="#3a2e2a" stroke-width="1.1"/><path d="M109.5 665.5V852.9" stroke="#5e5e5e" stroke-width="0.8"/><path d="M159.7 646.5V852.9" stroke="#3a2e2a" stroke-width="1.1"/><path d="M209.7 646.5V852.9" stroke="#5e5e5e" stroke-width="0.8"/><path d="M259.7 646.5V852.9" stroke="#5e5e5e" stroke-width="0.8"/><path d="M309.7 646.5V852.9" stroke="#5e5e5e" stroke-width="0.8"/><path d="M359.7 646.5V852.9" stroke="#5e5e5e" stroke-width="0.8"/><path d="M409.7 646.5V852.9" stroke="#5e5e5e" stroke-width="0.8"/><path d="M459.7 646.5V852.9" stroke="#5e5e5e" stroke-width="0.8"/><path d="M509.7 646.5V852.9" stroke="#5e5e5e" stroke-width="0.8"/><path d="M559.7 646.5V852.9" stroke="#5e5e5e" stroke-width="0.8"/><path d="M609.7 646.5V852.9" stroke="#5e5e5e" stroke-width="0.8"/><path d="M659.7 646.5V852.9" stroke="#5e5e5e" stroke-width="0.8"/><path d="M709.7 646.5V852.9" stroke="#5e5e5e" stroke-width="0.8"/><path d="M759.7 646.5V852.9" stroke="#5e5e5e" stroke-width="0.8"/><path d="M809.7 665.5V852.9" stroke="#5e5e5e" stroke-width="0.8"/><path d="M859.7 646.5V852.9" stroke="#5e5e5e" stroke-width="0.8"/><path d="M0 646.5H910" stroke="#3a2e2a" stroke-width="1.3"/><path d="M0 683.7H910" stroke="#4a403d" stroke-width="1.7"/><path d="M0 852.9H910" stroke="#3a2e2a" stroke-width="1.2"/></svg>
<div class="t " style="left:0px;top:657.5px;width:59.5px;"><span class="s"><span class="c">1</span><b>类型码</b></span></div>
<div class="t " style="left:59.5px;top:649.5px;width:100.2px;letter-spacing:1px"><span class="s"><span class="c">2</span>dr</span></div>
<div class="t " style="left:109.5px;top:667.5px;width:50.2px;"><span class="s">公差</span></div>
<div class="t a" style="left:159.7px;top:658.5px;width:50px;font-size:12px"><span class="s">h</span></div>
<div class="t a" style="left:209.7px;top:658.5px;width:50px;font-size:12px"><span class="s">W</span></div>
<div class="t a" style="left:259.7px;top:658.5px;width:50px;font-size:12px"><span class="s">B</span></div>
<div class="t a" style="left:309.7px;top:658.5px;width:50px;font-size:12px"><span class="s">H</span></div>
<div class="t a" style="left:359.7px;top:658.5px;width:50px;font-size:12px"><span class="s">L</span></div>
<div class="t a" style="left:409.7px;top:658.5px;width:50px;font-size:12px"><span class="s">L<sub>1</sub></span></div>
<div class="t a" style="left:459.7px;top:658.5px;width:50px;font-size:12px"><span class="s">H<sub>2</sub></span></div>
<div class="t a" style="left:509.7px;top:658.5px;width:50px;font-size:12px"><span class="s">W<sub>1</sub></span></div>
<div class="t a" style="left:559.7px;top:658.5px;width:50px;font-size:12px"><span class="s">S<sub>1</sub></span></div>
<div class="t a" style="left:609.7px;top:658.5px;width:50px;font-size:12px"><span class="s">e</span></div>
<div class="t a" style="left:659.7px;top:658.5px;width:50px;font-size:12px"><span class="s">h<sub>1</sub></span></div>
<div class="t a" style="left:709.7px;top:658.5px;width:50px;font-size:12px"><span class="s">K</span></div>
<div class="t " style="left:759.7px;top:649.5px;width:100px;"><span class="s">基本额定负荷</span></div>
<div class="t m" style="left:759.7px;top:667.5px;width:50px;"><span class="s">C(动)N</span></div>
<div class="t m" style="left:809.7px;top:667.5px;width:50px;"><span class="s">Co(静)N</span></div>
<div class="t " style="left:859.7px;top:650.5px;width:50px;"><span class="s">重量</span></div>
<div class="t n" style="left:859.7px;top:666.5px;width:50px;"><span class="s">(g)</span></div>
<div class="t b a" style="left:0px;top:761.3px;width:59.5px;"><span class="s">KRBR</span></div>
<div class="t b n" style="left:59.5px;top:686.6px;width:50px;"><span class="s">12</span></div>
<div class="t n" style="left:159.7px;top:686.6px;width:50px;"><span class="s">17</span></div>
<div class="t n" style="left:209.7px;top:686.6px;width:50px;"><span class="s">40</span></div>
<div class="t n" style="left:259.7px;top:686.6px;width:50px;"><span class="s">38</span></div>
<div class="t n" style="left:309.7px;top:686.6px;width:50px;"><span class="s">27.6</span></div>
<div class="t n" style="left:359.7px;top:686.6px;width:50px;"><span class="s">39</span></div>
<div class="t n" style="left:409.7px;top:686.6px;width:50px;"><span class="s">26</span></div>
<div class="t n" style="left:459.7px;top:686.6px;width:50px;"><span class="s">8</span></div>
<div class="t n" style="left:509.7px;top:686.6px;width:50px;"><span class="s">28</span></div>
<div class="t n" style="left:559.7px;top:686.6px;width:50px;"><span class="s">M5</span></div>
<div class="t n" style="left:609.7px;top:686.6px;width:50px;"><span class="s">10</span></div>
<div class="t n" style="left:659.7px;top:686.6px;width:50px;"><span class="s">8.5</span></div>
<div class="t n" style="left:709.7px;top:686.6px;width:50px;"><span class="s">80°</span></div>
<div class="t n" style="left:759.7px;top:686.6px;width:50px;"><span class="s">510</span></div>
<div class="t n" style="left:809.7px;top:686.6px;width:50px;"><span class="s">784</span></div>
<div class="t n" style="left:859.7px;top:686.6px;width:50px;"><span class="s">100</span></div>
<div class="t b n" style="left:59.5px;top:705.4px;width:50px;"><span class="s">13</span></div>
<div class="t n" style="left:159.7px;top:705.4px;width:50px;"><span class="s">17</span></div>
<div class="t n" style="left:209.7px;top:705.4px;width:50px;"><span class="s">40</span></div>
<div class="t n" style="left:259.7px;top:705.4px;width:50px;"><span class="s">38</span></div>
<div class="t n" style="left:309.7px;top:705.4px;width:50px;"><span class="s">27.6</span></div>
<div class="t n" style="left:359.7px;top:705.4px;width:50px;"><span class="s">39</span></div>
<div class="t n" style="left:409.7px;top:705.4px;width:50px;"><span class="s">26</span></div>
<div class="t n" style="left:459.7px;top:705.4px;width:50px;"><span class="s">8</span></div>
<div class="t n" style="left:509.7px;top:705.4px;width:50px;"><span class="s">28</span></div>
<div class="t n" style="left:559.7px;top:705.4px;width:50px;"><span class="s">M5</span></div>
<div class="t n" style="left:609.7px;top:705.4px;width:50px;"><span class="s">10</span></div>
<div class="t n" style="left:659.7px;top:705.4px;width:50px;"><span class="s">8.5</span></div>
<div class="t n" style="left:709.7px;top:705.4px;width:50px;"><span class="s">80°</span></div>
<div class="t n" style="left:759.7px;top:705.4px;width:50px;"><span class="s">510</span></div>
<div class="t n" style="left:809.7px;top:705.4px;width:50px;"><span class="s">784</span></div>
<div class="t n" style="left:859.7px;top:705.4px;width:50px;"><span class="s">100</span></div>
<div class="t b n" style="left:59.5px;top:724.2px;width:50px;"><span class="s">16</span></div>
<div class="t n" style="left:159.7px;top:724.2px;width:50px;"><span class="s">20</span></div>
<div class="t n" style="left:209.7px;top:724.2px;width:50px;"><span class="s">45</span></div>
<div class="t n" style="left:259.7px;top:724.2px;width:50px;"><span class="s">42</span></div>
<div class="t n" style="left:309.7px;top:724.2px;width:50px;"><span class="s">33</span></div>
<div class="t n" style="left:359.7px;top:724.2px;width:50px;"><span class="s">45</span></div>
<div class="t n" style="left:409.7px;top:724.2px;width:50px;"><span class="s">30</span></div>
<div class="t n" style="left:459.7px;top:724.2px;width:50px;"><span class="s">9</span></div>
<div class="t n" style="left:509.7px;top:724.2px;width:50px;"><span class="s">32</span></div>
<div class="t n" style="left:559.7px;top:724.2px;width:50px;"><span class="s">M5</span></div>
<div class="t n" style="left:609.7px;top:724.2px;width:50px;"><span class="s">12</span></div>
<div class="t n" style="left:659.7px;top:724.2px;width:50px;"><span class="s">10</span></div>
<div class="t n" style="left:709.7px;top:724.2px;width:50px;"><span class="s">80°</span></div>
<div class="t n" style="left:759.7px;top:724.2px;width:50px;"><span class="s">774</span></div>
<div class="t n" style="left:809.7px;top:724.2px;width:50px;"><span class="s">1180</span></div>
<div class="t n" style="left:859.7px;top:724.2px;width:50px;"><span class="s">150</span></div>
<div class="t b n" style="left:59.5px;top:743px;width:50px;"><span class="s">20</span></div>
<div class="t n" style="left:159.7px;top:743px;width:50px;"><span class="s">23</span></div>
<div class="t n" style="left:209.7px;top:743px;width:50px;"><span class="s">48</span></div>
<div class="t n" style="left:259.7px;top:743px;width:50px;"><span class="s">46</span></div>
<div class="t n" style="left:309.7px;top:743px;width:50px;"><span class="s">39</span></div>
<div class="t n" style="left:359.7px;top:743px;width:50px;"><span class="s">50</span></div>
<div class="t n" style="left:409.7px;top:743px;width:50px;"><span class="s">35</span></div>
<div class="t n" style="left:459.7px;top:743px;width:50px;"><span class="s">11</span></div>
<div class="t n" style="left:509.7px;top:743px;width:50px;"><span class="s">35</span></div>
<div class="t n" style="left:559.7px;top:743px;width:50px;"><span class="s">M6</span></div>
<div class="t n" style="left:609.7px;top:743px;width:50px;"><span class="s">12</span></div>
<div class="t n" style="left:659.7px;top:743px;width:50px;"><span class="s">10</span></div>
<div class="t n" style="left:709.7px;top:743px;width:50px;"><span class="s">60°</span></div>
<div class="t n" style="left:759.7px;top:743px;width:50px;"><span class="s">882</span></div>
<div class="t n" style="left:809.7px;top:743px;width:50px;"><span class="s">1370</span></div>
<div class="t n" style="left:859.7px;top:743px;width:50px;"><span class="s">200</span></div>
<div class="t b n" style="left:59.5px;top:761.8px;width:50px;"><span class="s">25</span></div>
<div class="t n" style="left:159.7px;top:761.8px;width:50px;"><span class="s">27</span></div>
<div class="t n" style="left:209.7px;top:761.8px;width:50px;"><span class="s">60</span></div>
<div class="t n" style="left:259.7px;top:761.8px;width:50px;"><span class="s">57</span></div>
<div class="t n" style="left:309.7px;top:761.8px;width:50px;"><span class="s">47</span></div>
<div class="t n" style="left:359.7px;top:761.8px;width:50px;"><span class="s">65</span></div>
<div class="t n" style="left:409.7px;top:761.8px;width:50px;"><span class="s">40</span></div>
<div class="t n" style="left:459.7px;top:761.8px;width:50px;"><span class="s">14</span></div>
<div class="t n" style="left:509.7px;top:761.8px;width:50px;"><span class="s">40</span></div>
<div class="t n" style="left:559.7px;top:761.8px;width:50px;"><span class="s">M6</span></div>
<div class="t n" style="left:609.7px;top:761.8px;width:50px;"><span class="s">12</span></div>
<div class="t n" style="left:659.7px;top:761.8px;width:50px;"><span class="s">11.5</span></div>
<div class="t n" style="left:709.7px;top:761.8px;width:50px;"><span class="s">50°</span></div>
<div class="t n" style="left:759.7px;top:761.8px;width:50px;"><span class="s">980</span></div>
<div class="t n" style="left:809.7px;top:761.8px;width:50px;"><span class="s">1570</span></div>
<div class="t n" style="left:859.7px;top:761.8px;width:50px;"><span class="s">450</span></div>
<div class="t b n" style="left:59.5px;top:780.6px;width:50px;"><span class="s">30</span></div>
<div class="t n" style="left:159.7px;top:780.6px;width:50px;"><span class="s">33</span></div>
<div class="t n" style="left:209.7px;top:780.6px;width:50px;"><span class="s">70</span></div>
<div class="t n" style="left:259.7px;top:780.6px;width:50px;"><span class="s">67</span></div>
<div class="t n" style="left:309.7px;top:780.6px;width:50px;"><span class="s">56</span></div>
<div class="t n" style="left:359.7px;top:780.6px;width:50px;"><span class="s">70</span></div>
<div class="t n" style="left:409.7px;top:780.6px;width:50px;"><span class="s">50</span></div>
<div class="t n" style="left:459.7px;top:780.6px;width:50px;"><span class="s">15</span></div>
<div class="t n" style="left:509.7px;top:780.6px;width:50px;"><span class="s">50</span></div>
<div class="t n" style="left:559.7px;top:780.6px;width:50px;"><span class="s">M8</span></div>
<div class="t n" style="left:609.7px;top:780.6px;width:50px;"><span class="s">18</span></div>
<div class="t n" style="left:659.7px;top:780.6px;width:50px;"><span class="s">14</span></div>
<div class="t n" style="left:709.7px;top:780.6px;width:50px;"><span class="s">50°</span></div>
<div class="t n" style="left:759.7px;top:780.6px;width:50px;"><span class="s">1570</span></div>
<div class="t n" style="left:809.7px;top:780.6px;width:50px;"><span class="s">2740</span></div>
<div class="t n" style="left:859.7px;top:780.6px;width:50px;"><span class="s">630</span></div>
<div class="t b n" style="left:59.5px;top:799.4px;width:50px;"><span class="s">35</span></div>
<div class="t n" style="left:159.7px;top:799.4px;width:50px;"><span class="s">37</span></div>
<div class="t n" style="left:209.7px;top:799.4px;width:50px;"><span class="s">80</span></div>
<div class="t n" style="left:259.7px;top:799.4px;width:50px;"><span class="s">76</span></div>
<div class="t n" style="left:309.7px;top:799.4px;width:50px;"><span class="s">63</span></div>
<div class="t n" style="left:359.7px;top:799.4px;width:50px;"><span class="s">80</span></div>
<div class="t n" style="left:409.7px;top:799.4px;width:50px;"><span class="s">55</span></div>
<div class="t n" style="left:459.7px;top:799.4px;width:50px;"><span class="s">18</span></div>
<div class="t n" style="left:509.7px;top:799.4px;width:50px;"><span class="s">55</span></div>
<div class="t n" style="left:559.7px;top:799.4px;width:50px;"><span class="s">M8</span></div>
<div class="t n" style="left:609.7px;top:799.4px;width:50px;"><span class="s">18</span></div>
<div class="t n" style="left:659.7px;top:799.4px;width:50px;"><span class="s">16</span></div>
<div class="t n" style="left:709.7px;top:799.4px;width:50px;"><span class="s">50°</span></div>
<div class="t n" style="left:759.7px;top:799.4px;width:50px;"><span class="s">1670</span></div>
<div class="t n" style="left:809.7px;top:799.4px;width:50px;"><span class="s">3140</span></div>
<div class="t n" style="left:859.7px;top:799.4px;width:50px;"><span class="s">920</span></div>
<div class="t b n" style="left:59.5px;top:818.2px;width:50px;"><span class="s">40</span></div>
<div class="t n" style="left:159.7px;top:818.2px;width:50px;"><span class="s">42</span></div>
<div class="t n" style="left:209.7px;top:818.2px;width:50px;"><span class="s">90</span></div>
<div class="t n" style="left:259.7px;top:818.2px;width:50px;"><span class="s">87</span></div>
<div class="t n" style="left:309.7px;top:818.2px;width:50px;"><span class="s">72</span></div>
<div class="t n" style="left:359.7px;top:818.2px;width:50px;"><span class="s">90</span></div>
<div class="t n" style="left:409.7px;top:818.2px;width:50px;"><span class="s">65</span></div>
<div class="t n" style="left:459.7px;top:818.2px;width:50px;"><span class="s">20</span></div>
<div class="t n" style="left:509.7px;top:818.2px;width:50px;"><span class="s">65</span></div>
<div class="t n" style="left:559.7px;top:818.2px;width:50px;"><span class="s">M10</span></div>
<div class="t n" style="left:609.7px;top:818.2px;width:50px;"><span class="s">20</span></div>
<div class="t n" style="left:659.7px;top:818.2px;width:50px;"><span class="s">19</span></div>
<div class="t n" style="left:709.7px;top:818.2px;width:50px;"><span class="s">50°</span></div>
<div class="t n" style="left:759.7px;top:818.2px;width:50px;"><span class="s">2160</span></div>
<div class="t n" style="left:809.7px;top:818.2px;width:50px;"><span class="s">4020</span></div>
<div class="t n" style="left:859.7px;top:818.2px;width:50px;"><span class="s">1330</span></div>
<div class="t b n" style="left:59.5px;top:837px;width:50px;"><span class="s">50</span></div>
<div class="t n" style="left:159.7px;top:837px;width:50px;"><span class="s">53</span></div>
<div class="t n" style="left:209.7px;top:837px;width:50px;"><span class="s">120</span></div>
<div class="t n" style="left:259.7px;top:837px;width:50px;"><span class="s">117</span></div>
<div class="t n" style="left:309.7px;top:837px;width:50px;"><span class="s">92</span></div>
<div class="t n" style="left:359.7px;top:837px;width:50px;"><span class="s">110</span></div>
<div class="t n" style="left:409.7px;top:837px;width:50px;"><span class="s">80</span></div>
<div class="t n" style="left:459.7px;top:837px;width:50px;"><span class="s">25</span></div>
<div class="t n" style="left:509.7px;top:837px;width:50px;"><span class="s">94</span></div>
<div class="t n" style="left:559.7px;top:837px;width:50px;"><span class="s">M10</span></div>
<div class="t n" style="left:609.7px;top:837px;width:50px;"><span class="s">20</span></div>
<div class="t n" style="left:659.7px;top:837px;width:50px;"><span class="s">23</span></div>
<div class="t n" style="left:709.7px;top:837px;width:50px;"><span class="s">50°</span></div>
<div class="t n" style="left:759.7px;top:837px;width:50px;"><span class="s">3820</span></div>
<div class="t n" style="left:809.7px;top:837px;width:50px;"><span class="s">7940</span></div>
<div class="t n" style="left:859.7px;top:837px;width:50px;"><span class="s">3000</span></div>
<div class="t l n" style="left:118.5px;top:696.9px;width:42px;"><span class="s">0</span></div>
<div class="t n" style="left:110.5px;top:712.9px;width:50px;letter-spacing:.5px"><span class="s">-0.009</span></div>
<div class="t l n" style="left:118.5px;top:753.3px;width:42px;"><span class="s">0</span></div>
<div class="t n" style="left:110.5px;top:769.3px;width:50px;letter-spacing:.5px"><span class="s">-0.010</span></div>
<div class="t l n" style="left:118.5px;top:809.7px;width:42px;"><span class="s">0</span></div>
<div class="t n" style="left:110.5px;top:825.7px;width:50px;letter-spacing:.5px"><span class="s">-0.012</span></div>
<div class="sq" style="left:0px;top:865px;width:14.5px;height:14.5px"></div>
<div class="t l hd" style="left:16.5px;top:863px;width:200px">开口加长型</div>
<svg width="910" height="1287" viewBox="0 0 910 1287" fill="none"><rect x="0" y="883.6" width="910" height="37.4" fill="#c6d9e5"/><rect x="159.7" y="955" width="750.3" height="18.5" fill="#ecf3fa"/><rect x="159.7" y="992" width="750.3" height="18.5" fill="#ecf3fa"/><rect x="159.7" y="1029" width="750.3" height="18.5" fill="#ecf3fa"/><path d="M59.5 955H109.5" stroke="#8a8a8a" stroke-width="0.8"/><path d="M159.7 955H910" stroke="#8a8a8a" stroke-width="0.8"/><path d="M59.5 973.5H109.5" stroke="#8a8a8a" stroke-width="0.8"/><path d="M159.7 973.5H910" stroke="#8a8a8a" stroke-width="0.8"/><path d="M59.5 992H109.5" stroke="#8a8a8a" stroke-width="0.8"/><path d="M159.7 992H910" stroke="#8a8a8a" stroke-width="0.8"/><path d="M59.5 1010.5H109.5" stroke="#8a8a8a" stroke-width="0.8"/><path d="M159.7 1010.5H910" stroke="#8a8a8a" stroke-width="0.8"/><path d="M59.5 1029H109.5" stroke="#8a8a8a" stroke-width="0.8"/><path d="M159.7 1029H910" stroke="#8a8a8a" stroke-width="0.8"/><path d="M109.5 955H159.7" stroke="#8a8a8a" stroke-width="0.8"/><path d="M109.5 1010.5H159.7" stroke="#8a8a8a" stroke-width="0.8"/><path d="M109.5 902.6H159.7" stroke="#5e5e5e" stroke-width="0.8"/><path d="M759.7 902.6H859.7" stroke="#5e5e5e" stroke-width="0.8"/><path d="M59.5 883.6V1047.5" stroke="#3a2e2a" stroke-width="1.1"/><path d="M109.5 902.6V1047.5" stroke="#5e5e5e" stroke-width="0.8"/><path d="M159.7 883.6V1047.5" stroke="#3a2e2a" stroke-width="1.1"/><path d="M209.7 883.6V1047.5" stroke="#5e5e5e" stroke-width="0.8"/><path d="M259.7 883.6V1047.5" stroke="#5e5e5e" stroke-width="0.8"/><path d="M309.7 883.6V1047.5" stroke="#5e5e5e" stroke-width="0.8"/><path d="M359.7 883.6V1047.5" stroke="#5e5e5e" stroke-width="0.8"/><path d="M409.7 883.6V1047.5" stroke="#5e5e5e" stroke-width="0.8"/><path d="M459.7 883.6V1047.5" stroke="#5e5e5e" stroke-width="0.8"/><path d="M509.7 883.6V1047.5" stroke="#5e5e5e" stroke-width="0.8"/><path d="M559.7 883.6V1047.5" stroke="#5e5e5e" stroke-width="0.8"/><path d="M609.7 883.6V1047.5" stroke="#5e5e5e" stroke-width="0.8"/><path d="M659.7 883.6V1047.5" stroke="#5e5e5e" stroke-width="0.8"/><path d="M709.7 883.6V1047.5" stroke="#5e5e5e" stroke-width="0.8"/><path d="M759.7 883.6V1047.5" stroke="#5e5e5e" stroke-width="0.8"/><path d="M809.7 902.6V1047.5" stroke="#5e5e5e" stroke-width="0.8"/><path d="M859.7 883.6V1047.5" stroke="#5e5e5e" stroke-width="0.8"/><path d="M0 883.6H910" stroke="#3a2e2a" stroke-width="1.3"/><path d="M0 921H910" stroke="#4a403d" stroke-width="1.7"/><path d="M0 1047.5H910" stroke="#3a2e2a" stroke-width="1.2"/></svg>
<div class="t " style="left:0px;top:894.6px;width:59.5px;"><span class="s"><span class="c">1</span><b>类型码</b></span></div>
<div class="t " style="left:59.5px;top:886.6px;width:100.2px;letter-spacing:1px"><span class="s"><span class="c">2</span>dr</span></div>
<div class="t " style="left:109.5px;top:904.6px;width:50.2px;"><span class="s">公差</span></div>
<div class="t a" style="left:159.7px;top:895.6px;width:50px;font-size:12px"><span class="s">h</span></div>
<div class="t a" style="left:209.7px;top:895.6px;width:50px;font-size:12px"><span class="s">W</span></div>
<div class="t a" style="left:259.7px;top:895.6px;width:50px;font-size:12px"><span class="s">B</span></div>
<div class="t a" style="left:309.7px;top:895.6px;width:50px;font-size:12px"><span class="s">H</span></div>
<div class="t a" style="left:359.7px;top:895.6px;width:50px;font-size:12px"><span class="s">L</span></div>
<div class="t a" style="left:409.7px;top:895.6px;width:50px;font-size:12px"><span class="s">L<sub>1</sub></span></div>
<div class="t a" style="left:459.7px;top:895.6px;width:50px;font-size:12px"><span class="s">H<sub>2</sub></span></div>
<div class="t a" style="left:509.7px;top:895.6px;width:50px;font-size:12px"><span class="s">W<sub>1</sub></span></div>
<div class="t a" style="left:559.7px;top:895.6px;width:50px;font-size:12px"><span class="s">S<sub>1</sub></span></div>
<div class="t a" style="left:609.7px;top:895.6px;width:50px;font-size:12px"><span class="s">e</span></div>
<div class="t a" style="left:659.7px;top:895.6px;width:50px;font-size:12px"><span class="s">h<sub>1</sub></span></div>
<div class="t a" style="left:709.7px;top:895.6px;width:50px;font-size:12px"><span class="s">K</span></div>
<div class="t " style="left:759.7px;top:886.6px;width:100px;"><span class="s">基本额定负荷</span></div>
<div class="t m" style="left:759.7px;top:904.6px;width:50px;"><span class="s">C(动)N</span></div>
<div class="t m" style="left:809.7px;top:904.6px;width:50px;"><span class="s">Co(静)N</span></div>
<div class="t " style="left:859.7px;top:887.6px;width:50px;"><span class="s">重量</span></div>
<div class="t n" style="left:859.7px;top:903.6px;width:50px;"><span class="s">(g)</span></div>
<div class="t b a" style="left:0px;top:977.25px;width:59.5px;"><span class="s">KRBRL</span></div>
<div class="t b n" style="left:59.5px;top:931.5px;width:50px;"><span class="s">16</span></div>
<div class="t n" style="left:159.7px;top:931.5px;width:50px;"><span class="s">20</span></div>
<div class="t n" style="left:209.7px;top:931.5px;width:50px;"><span class="s">45</span></div>
<div class="t n" style="left:259.7px;top:931.5px;width:50px;"><span class="s">42</span></div>
<div class="t n" style="left:309.7px;top:931.5px;width:50px;"><span class="s">33</span></div>
<div class="t n" style="left:359.7px;top:931.5px;width:50px;"><span class="s">85</span></div>
<div class="t n" style="left:409.7px;top:931.5px;width:50px;"><span class="s">60</span></div>
<div class="t n" style="left:459.7px;top:931.5px;width:50px;"><span class="s">9</span></div>
<div class="t n" style="left:509.7px;top:931.5px;width:50px;"><span class="s">32</span></div>
<div class="t n" style="left:559.7px;top:931.5px;width:50px;"><span class="s">M5</span></div>
<div class="t n" style="left:609.7px;top:931.5px;width:50px;"><span class="s">12</span></div>
<div class="t n" style="left:659.7px;top:931.5px;width:50px;"><span class="s">10</span></div>
<div class="t n" style="left:709.7px;top:931.5px;width:50px;"><span class="s">80°</span></div>
<div class="t n" style="left:759.7px;top:931.5px;width:50px;"><span class="s">1230</span></div>
<div class="t n" style="left:809.7px;top:931.5px;width:50px;"><span class="s">2340</span></div>
<div class="t n" style="left:859.7px;top:931.5px;width:50px;"><span class="s">290</span></div>
<div class="t b n" style="left:59.5px;top:957.75px;width:50px;"><span class="s">20</span></div>
<div class="t n" style="left:159.7px;top:957.75px;width:50px;"><span class="s">23</span></div>
<div class="t n" style="left:209.7px;top:957.75px;width:50px;"><span class="s">48</span></div>
<div class="t n" style="left:259.7px;top:957.75px;width:50px;"><span class="s">46</span></div>
<div class="t n" style="left:309.7px;top:957.75px;width:50px;"><span class="s">39</span></div>
<div class="t n" style="left:359.7px;top:957.75px;width:50px;"><span class="s">96</span></div>
<div class="t n" style="left:409.7px;top:957.75px;width:50px;"><span class="s">70</span></div>
<div class="t n" style="left:459.7px;top:957.75px;width:50px;"><span class="s">11</span></div>
<div class="t n" style="left:509.7px;top:957.75px;width:50px;"><span class="s">35</span></div>
<div class="t n" style="left:559.7px;top:957.75px;width:50px;"><span class="s">M6</span></div>
<div class="t n" style="left:609.7px;top:957.75px;width:50px;"><span class="s">12</span></div>
<div class="t n" style="left:659.7px;top:957.75px;width:50px;"><span class="s">10</span></div>
<div class="t n" style="left:709.7px;top:957.75px;width:50px;"><span class="s">60°</span></div>
<div class="t n" style="left:759.7px;top:957.75px;width:50px;"><span class="s">1370</span></div>
<div class="t n" style="left:809.7px;top:957.75px;width:50px;"><span class="s">2740</span></div>
<div class="t n" style="left:859.7px;top:957.75px;width:50px;"><span class="s">510</span></div>
<div class="t b n" style="left:59.5px;top:976.25px;width:50px;"><span class="s">25</span></div>
<div class="t n" style="left:159.7px;top:976.25px;width:50px;"><span class="s">27</span></div>
<div class="t n" style="left:209.7px;top:976.25px;width:50px;"><span class="s">60</span></div>
<div class="t n" style="left:259.7px;top:976.25px;width:50px;"><span class="s">57</span></div>
<div class="t n" style="left:309.7px;top:976.25px;width:50px;"><span class="s">47</span></div>
<div class="t n" style="left:359.7px;top:976.25px;width:50px;"><span class="s">130</span></div>
<div class="t n" style="left:409.7px;top:976.25px;width:50px;"><span class="s">100</span></div>
<div class="t n" style="left:459.7px;top:976.25px;width:50px;"><span class="s">14</span></div>
<div class="t n" style="left:509.7px;top:976.25px;width:50px;"><span class="s">40</span></div>
<div class="t n" style="left:559.7px;top:976.25px;width:50px;"><span class="s">M6</span></div>
<div class="t n" style="left:609.7px;top:976.25px;width:50px;"><span class="s">12</span></div>
<div class="t n" style="left:659.7px;top:976.25px;width:50px;"><span class="s">11.5</span></div>
<div class="t n" style="left:709.7px;top:976.25px;width:50px;"><span class="s">50°</span></div>
<div class="t n" style="left:759.7px;top:976.25px;width:50px;"><span class="s">1560</span></div>
<div class="t n" style="left:809.7px;top:976.25px;width:50px;"><span class="s">3120</span></div>
<div class="t n" style="left:859.7px;top:976.25px;width:50px;"><span class="s">980</span></div>
<div class="t b n" style="left:59.5px;top:994.75px;width:50px;"><span class="s">30</span></div>
<div class="t n" style="left:159.7px;top:994.75px;width:50px;"><span class="s">33</span></div>
<div class="t n" style="left:209.7px;top:994.75px;width:50px;"><span class="s">70</span></div>
<div class="t n" style="left:259.7px;top:994.75px;width:50px;"><span class="s">67</span></div>
<div class="t n" style="left:309.7px;top:994.75px;width:50px;"><span class="s">56</span></div>
<div class="t n" style="left:359.7px;top:994.75px;width:50px;"><span class="s">140</span></div>
<div class="t n" style="left:409.7px;top:994.75px;width:50px;"><span class="s">110</span></div>
<div class="t n" style="left:459.7px;top:994.75px;width:50px;"><span class="s">15</span></div>
<div class="t n" style="left:509.7px;top:994.75px;width:50px;"><span class="s">50</span></div>
<div class="t n" style="left:559.7px;top:994.75px;width:50px;"><span class="s">M8</span></div>
<div class="t n" style="left:609.7px;top:994.75px;width:50px;"><span class="s">18</span></div>
<div class="t n" style="left:659.7px;top:994.75px;width:50px;"><span class="s">14</span></div>
<div class="t n" style="left:709.7px;top:994.75px;width:50px;"><span class="s">50°</span></div>
<div class="t n" style="left:759.7px;top:994.75px;width:50px;"><span class="s">2490</span></div>
<div class="t n" style="left:809.7px;top:994.75px;width:50px;"><span class="s">5480</span></div>
<div class="t n" style="left:859.7px;top:994.75px;width:50px;"><span class="s">1450</span></div>
<div class="t b n" style="left:59.5px;top:1013.25px;width:50px;"><span class="s">35</span></div>
<div class="t n" style="left:159.7px;top:1013.25px;width:50px;"><span class="s">37</span></div>
<div class="t n" style="left:209.7px;top:1013.25px;width:50px;"><span class="s">80</span></div>
<div class="t n" style="left:259.7px;top:1013.25px;width:50px;"><span class="s">76</span></div>
<div class="t n" style="left:309.7px;top:1013.25px;width:50px;"><span class="s">63</span></div>
<div class="t n" style="left:359.7px;top:1013.25px;width:50px;"><span class="s">155</span></div>
<div class="t n" style="left:409.7px;top:1013.25px;width:50px;"><span class="s">120</span></div>
<div class="t n" style="left:459.7px;top:1013.25px;width:50px;"><span class="s">18</span></div>
<div class="t n" style="left:509.7px;top:1013.25px;width:50px;"><span class="s">55</span></div>
<div class="t n" style="left:559.7px;top:1013.25px;width:50px;"><span class="s">M8</span></div>
<div class="t n" style="left:609.7px;top:1013.25px;width:50px;"><span class="s">18</span></div>
<div class="t n" style="left:659.7px;top:1013.25px;width:50px;"><span class="s">16</span></div>
<div class="t n" style="left:709.7px;top:1013.25px;width:50px;"><span class="s">50°</span></div>
<div class="t n" style="left:759.7px;top:1013.25px;width:50px;"><span class="s">2650</span></div>
<div class="t n" style="left:809.7px;top:1013.25px;width:50px;"><span class="s">6260</span></div>
<div class="t n" style="left:859.7px;top:1013.25px;width:50px;"><span class="s">1800</span></div>
<div class="t b n" style="left:59.5px;top:1031.75px;width:50px;"><span class="s">40</span></div>
<div class="t n" style="left:159.7px;top:1031.75px;width:50px;"><span class="s">42</span></div>
<div class="t n" style="left:209.7px;top:1031.75px;width:50px;"><span class="s">90</span></div>
<div class="t n" style="left:259.7px;top:1031.75px;width:50px;"><span class="s">87</span></div>
<div class="t n" style="left:309.7px;top:1031.75px;width:50px;"><span class="s">72</span></div>
<div class="t n" style="left:359.7px;top:1031.75px;width:50px;"><span class="s">175</span></div>
<div class="t n" style="left:409.7px;top:1031.75px;width:50px;"><span class="s">140</span></div>
<div class="t n" style="left:459.7px;top:1031.75px;width:50px;"><span class="s">20</span></div>
<div class="t n" style="left:509.7px;top:1031.75px;width:50px;"><span class="s">65</span></div>
<div class="t n" style="left:559.7px;top:1031.75px;width:50px;"><span class="s">M10</span></div>
<div class="t n" style="left:609.7px;top:1031.75px;width:50px;"><span class="s">20</span></div>
<div class="t n" style="left:659.7px;top:1031.75px;width:50px;"><span class="s">19</span></div>
<div class="t n" style="left:709.7px;top:1031.75px;width:50px;"><span class="s">50°</span></div>
<div class="t n" style="left:759.7px;top:1031.75px;width:50px;"><span class="s">3440</span></div>
<div class="t n" style="left:809.7px;top:1031.75px;width:50px;"><span class="s">8020</span></div>
<div class="t n" style="left:859.7px;top:1031.75px;width:50px;"><span class="s">2480</span></div>
<div class="t l n" style="left:118.5px;top:923px;width:42px;"><span class="s">0</span></div>
<div class="t n" style="left:110.5px;top:939px;width:50px;letter-spacing:.5px"><span class="s">-0.009</span></div>
<div class="t l n" style="left:118.5px;top:967.75px;width:42px;"><span class="s">0</span></div>
<div class="t n" style="left:110.5px;top:983.75px;width:50px;letter-spacing:.5px"><span class="s">-0.010</span></div>
<div class="t l n" style="left:118.5px;top:1014px;width:42px;"><span class="s">0</span></div>
<div class="t n" style="left:110.5px;top:1030px;width:50px;letter-spacing:.5px"><span class="s">-0.012</span></div>
<div class="abs" style="left:0px;top:1092.6px;width:13.5px;height:11px;border-radius:2.5px;background:#e85fa0"></div>
<svg width="910" height="1287" viewBox="0 0 910 1287"><path d="M6.8 1093.8q-2.3 0 -2.1 2.2l.9 3.3q1.2 1.2 2.4 0l.9 -3.3q.2 -2.2 -2.1 -2.2z" fill="#fff"/><circle cx="6.8" cy="1101.6" r="1.25" fill="#fff"/></svg>
<div class="t l" style="left:15px;top:1091px;width:500px;font-size:12.4px;letter-spacing:.5px;font-weight:500;-webkit-text-stroke:.15px #231815"><span class="s">建议配合使用g6公差的导向轴，可以和SB圆导轨配合使用。</span></div>
<div class="abs" style="left:0px;top:1135.6px;width:13.5px;height:11px;border-radius:2.5px;background:#e85fa0"></div>
<svg width="910" height="1287" viewBox="0 0 910 1287"><path d="M6.8 1136.8q-2.3 0 -2.1 2.2l.9 3.3q1.2 1.2 2.4 0l.9 -3.3q.2 -2.2 -2.1 -2.2z" fill="#fff"/><circle cx="6.8" cy="1144.6" r="1.25" fill="#fff"/></svg>
<div class="t l" style="left:15px;top:1134px;width:500px;font-size:12.4px;letter-spacing:.5px;font-weight:500;-webkit-text-stroke:.15px #231815"><span class="s">开口方向承受负载时，额定负载会下降，请按照右表所示补偿</span></div>
<div class="t l" style="left:1.5px;top:1148.5px;width:500px;font-size:12.4px;letter-spacing:.5px;font-weight:500;-webkit-text-stroke:.15px #231815"><span class="s">系数进行补偿：补偿额定负载=基本额定负载X补偿系数。</span></div>
<svg width="910" height="1287" viewBox="0 0 910 1287" fill="none">
<style>.s1{stroke:#3a3230;stroke-width:.9;stroke-linejoin:round}.s2{stroke:#5a5250;stroke-width:.6}.s3{stroke:#5a5250;stroke-width:.6;stroke-dasharray:7 1.5 2 1.5}</style>
<path d="M447.25 1073.24 L454.40 1091.92 L448.90 1091.92 L448.90 1100.71 L445.60 1100.71 L445.60 1091.92 L440.11 1091.92Z" fill="#111"/>
<path d="M438.46 1142.47 L432.09 1151.81 L432.09 1159.51 L429.67 1161.15 L418.90 1161.15 L418.13 1162.25 L418.13 1167.20 L418.90 1168.30 L435.71 1168.30 L436.81 1167.20 L458.02 1167.20 L459.12 1168.30 L475.82 1168.30 L476.59 1167.20 L476.59 1162.25 L475.82 1161.15 L465.05 1161.15 L462.86 1159.51 L462.86 1151.81 L456.26 1142.47Z" fill="#e5e5e5" class="s1"/>
<path d="M414.84 1104.56 L416.26 1103.02 L431.87 1103.02 L432.97 1104.12 L441.76 1104.12 L442.86 1103.02 L452.20 1103.02 L453.30 1104.12 L462.09 1104.12 L463.19 1103.02 L478.90 1103.02 L480.55 1104.56 L480.55 1116.10 L478.90 1117.75 L478.90 1148.52 L477.47 1150.16 L463.19 1150.16 L457.29 1144.56A16.48 16.48 0 1 0 437.22 1144.56 L437.22 1144.56 L432.09 1150.16 L417.58 1150.16 L416.26 1148.52 L416.26 1117.75 L414.84 1116.10Z" fill="#e5e5e5" class="s1"/>
<circle cx="447.25" cy="1131.48" r="16.48" fill="#f4f4f4" class="s1" stroke-width=".8"/>
<circle cx="447.25" cy="1131.48" r="14.84" class="s1" stroke-width=".7"/>
<path d="M438.68 1143.24 L455.82 1143.24 L459.89 1149.07 L434.95 1149.07Z" fill="#e5e5e5" stroke="none"/>
<path d="M432.09 1151.81 L438.68 1142.47" class="s1"/>
<path d="M462.86 1151.81 L456.04 1142.47" class="s1"/>
<path d="M432.97 1149.62 L437.91 1143.24" class="s1" stroke-width=".7"/>
<path d="M461.76 1149.62 L456.81 1143.24" class="s1" stroke-width=".7"/>
<circle cx="447.25" cy="1131.48" r="12.31" fill="#fff" class="s1" stroke-width="1.2"/>
<path d="M420.00 1103.46V1119.40M421.32 1103.46V1119.40M427.03 1103.46V1119.40M428.35 1103.46V1119.40M420.00 1119.40H428.35" class="s2"/>
<path d="M424.18 1101.81V1122.14" class="s3"/>
<path d="M466.15 1103.46V1119.40M467.47 1103.46V1119.40M473.19 1103.46V1119.40M474.51 1103.46V1119.40M466.15 1119.40H474.51" class="s2"/>
<path d="M470.33 1101.81V1122.14" class="s3"/>
<path d="M422.42 1161.37V1168.08M428.57 1161.37V1168.08" class="s2"/>
<path d="M425.49 1155.66V1172.14" class="s3"/>
<path d="M465.93 1161.37V1168.08M472.09 1161.37V1168.08" class="s2"/>
<path d="M469.01 1155.66V1172.14" class="s3"/>
<path d="M412.09 1131.48H484.07" class="s3"/>
<path d="M447.25 1101.26V1172.14" class="s3"/>
</svg>
<svg width="910" height="1287" viewBox="0 0 910 1287" fill="none"><rect x="513" y="1097.8" width="124" height="18" fill="#c6d9e5"/><rect x="513" y="1134.7" width="124" height="18.8" fill="#ecf3fa"/><path d="M513 1134.7H637" stroke="#8a8a8a" stroke-width="0.8"/><path d="M513 1153.5H637" stroke="#8a8a8a" stroke-width="0.8"/><path d="M577.3 1097.8V1171.6" stroke="#3a2e2a" stroke-width="1.1"/><path d="M513 1097.8H637" stroke="#3a2e2a" stroke-width="1.3"/><path d="M513 1115.8H637" stroke="#3a2e2a" stroke-width="1.5"/><path d="M513 1171.6H637" stroke="#3a2e2a" stroke-width="1.3"/></svg>
<div class="t l" style="left:513px;top:1082.5px;width:100px;font-size:12.6px;letter-spacing:0"><span class="s">补偿系数表</span></div>
<div class="t n" style="left:513px;top:1100.3px;width:64.3px;letter-spacing:1px"><span class="s">dr</span></div>
<div class="t " style="left:577.3px;top:1100.3px;width:59.7px;font-size:12.6px"><span class="s">补偿系数</span></div>
<div class="t n" style="left:513px;top:1118.75px;width:64.3px;"><span class="s">10～16</span></div>
<div class="t n" style="left:577.3px;top:1118.75px;width:59.7px;letter-spacing:.6px"><span class="s">0.64</span></div>
<div class="t n" style="left:513px;top:1137.6px;width:64.3px;"><span class="s">20</span></div>
<div class="t n" style="left:577.3px;top:1137.6px;width:59.7px;letter-spacing:.6px"><span class="s">0.54</span></div>
<div class="t n" style="left:513px;top:1156.05px;width:64.3px;"><span class="s">25～50</span></div>
<div class="t n" style="left:577.3px;top:1156.05px;width:59.7px;letter-spacing:.6px"><span class="s">0.57</span></div>
<div class="bx" style="left:0;top:1203.5px;width:910px;height:82px;border:1.5px solid #f08a4b"></div>
<svg width="910" height="1287" viewBox="0 0 910 1287" fill="none" stroke="#2f79ad" stroke-linecap="butt"><circle cx="53.4" cy="1245.2" r="24.5" stroke-width="3.5"/><path d="M70 1233.8H61.6L56.9 1252.5H40" stroke-width="2" stroke-linejoin="miter"/><path d="M35.4 1239.5H60.4M37.9 1243.3H59.4M38.9 1247.1H58.4" stroke-width="1.9"/><circle cx="42.1" cy="1258" r="1.9" fill="#2f79ad" stroke="none"/><circle cx="58.9" cy="1257.4" r="3.5" fill="#2f79ad" stroke="none"/></svg>
<div class="t l" style="left:84.5px;top:1229.5px;width:60px;font-size:12.6px;letter-spacing:1.6px;color:#4a4a4a"><span class="s">订购范例</span></div>
<div class="t l" style="left:84.5px;top:1246px;width:60px;font-family:'Liberation Mono',monospace;font-size:12px;letter-spacing:5.1px;color:#4a4a4a"><span class="s">Order</span></div>
<svg width="910" height="1287" viewBox="0 0 910 1287" fill="none"><path d="M153 1245.3H290.4" stroke="#8a8a8a" stroke-width="0.8"/><path d="M212.7 1226V1263.6" stroke="#5e5e5e" stroke-width="0.8"/><path d="M230.3 1226V1263.6" stroke="#5e5e5e" stroke-width="0.8"/><rect x="153" y="1226" width="137.4" height="37.6" stroke="#3a2e2a" stroke-width="1.1"/></svg>
<div class="t " style="left:153px;top:1228.7px;width:59.7px;"><span class="s"><span class="c">1</span><b>类型码</b></span></div>
<div class="t n" style="left:212.7px;top:1228.7px;width:17.6px;"><span class="s">–</span></div>
<div class="t " style="left:230.3px;top:1228.7px;width:60.1px;letter-spacing:1px"><span class="s"><span class="c">2</span>dr</span></div>
<div class="t b a" style="left:153px;top:1247.7px;width:59.7px;"><span class="s">KRBR</span></div>
<div class="t b n" style="left:212.7px;top:1247.7px;width:17.6px;"><span class="s">–</span></div>
<div class="t b n" style="left:230.3px;top:1247.7px;width:60.1px;"><span class="s">12</span></div>
</body>
</html>
